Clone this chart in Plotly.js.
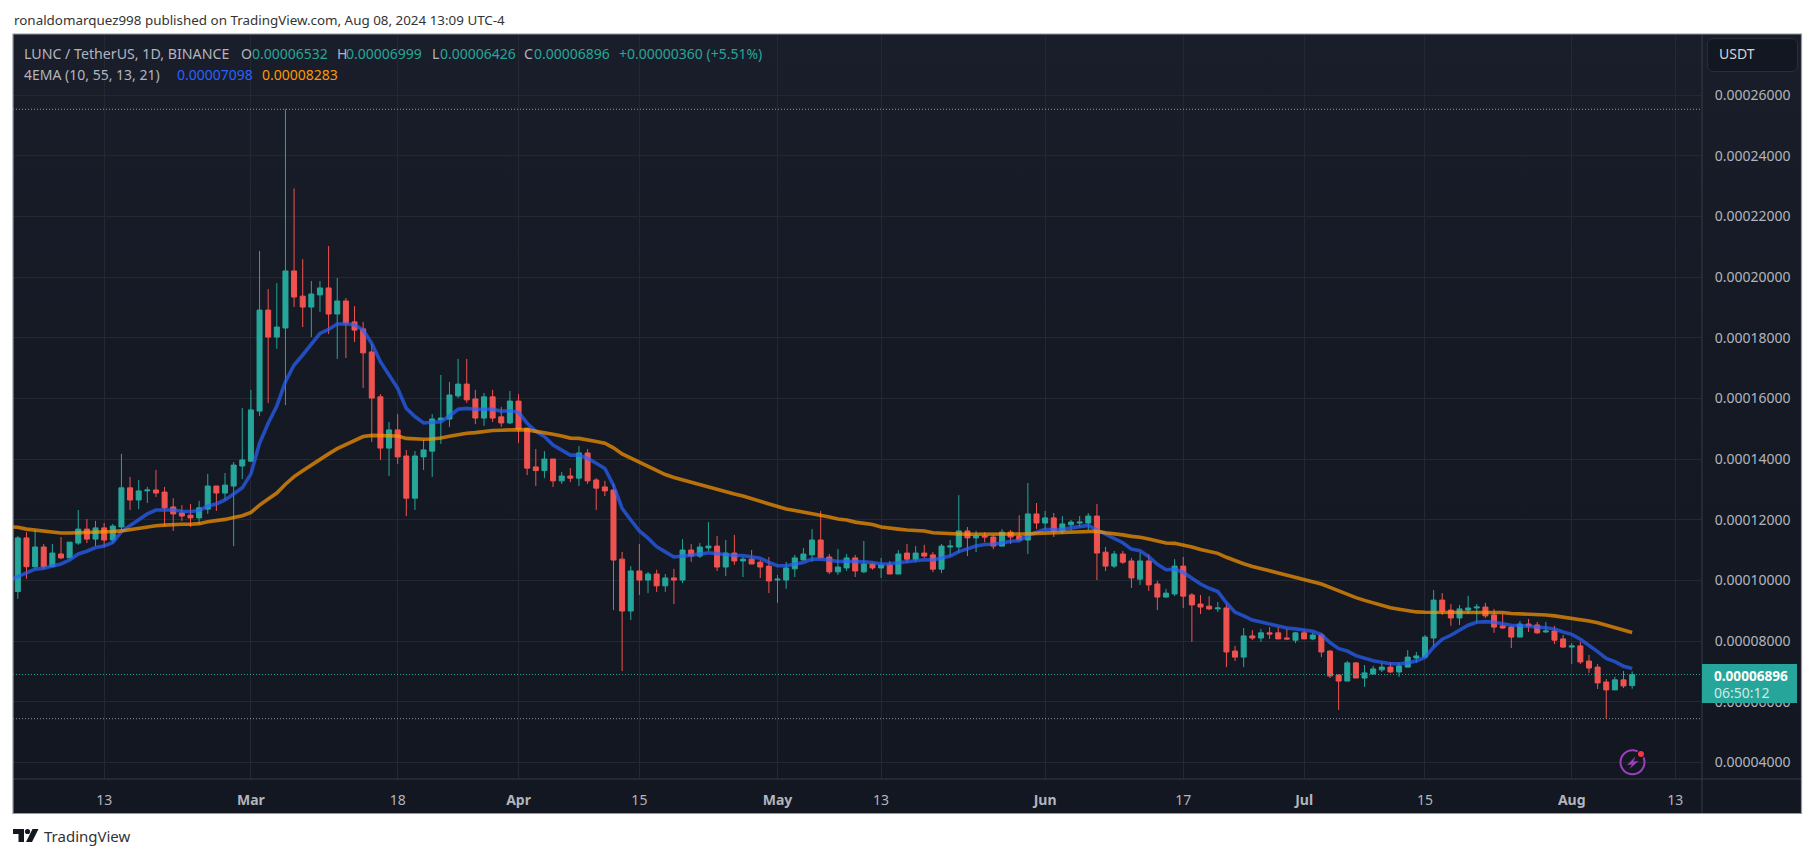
<!DOCTYPE html>
<html>
<head>
<meta charset="utf-8">
<script src="https://cdn.plot.ly/plotly-3.0.1.min.js"></script>
<style>
html,body{margin:0;padding:0;background:#fff;width:1815px;height:858px;overflow:hidden}
#frame{position:absolute;left:13px;top:34px;width:1788px;height:779px;background:linear-gradient(#1a1e2a 0%,#151924 40%,#131722 100%)}
#btn{position:absolute;left:1707px;top:38px;width:89px;height:32px;background:#131722;border:1px solid #2a2e39;border-radius:6px}
#chart{position:absolute;left:0;top:0;width:1815px;height:858px}
</style>
</head>
<body>
<div id="frame"></div>
<div id="btn"></div>
<div id="chart"></div>
<script>
const PRICE_UNIT = 1e-5;
const START_DATE = Date.UTC(2024, 1, 3);

const opens = [9.63,11.40,10.45,11.10,10.45,10.87,10.74,11.23,11.69,11.36,
11.73,11.33,11.76,13.05,12.65,12.95,12.98,12.91,12.42,12.22,
12.15,12.06,12.35,13.11,12.88,13.11,13.77,13.93,15.58,18.91,
18.02,18.32,20.20,19.37,19.01,19.41,19.64,18.78,19.21,18.52,
18.29,17.53,16.05,14.36,14.96,14.10,12.71,14.07,14.26,15.29,
15.32,16.08,16.47,15.98,15.35,16.05,15.39,15.19,15.91,15.02,
13.74,13.62,14.00,13.28,13.44,13.37,14.20,13.31,13.08,12.98,
10.70,8.99,10.31,10.01,10.21,9.82,10.08,10.01,11.00,10.80,
11.07,11.13,10.44,10.90,10.64,10.70,10.60,10.47,10.01,10.01,
10.38,10.67,10.84,11.33,10.77,10.28,10.41,10.74,10.28,10.54,
10.41,10.51,10.21,10.90,10.70,10.90,10.84,10.37,11.10,11.10,
11.63,11.40,11.46,11.43,11.13,11.59,11.46,11.33,12.19,11.89,
12.06,11.63,11.83,11.89,11.89,12.12,10.93,10.47,10.87,10.64,
10.04,10.64,9.88,9.45,9.55,10.47,9.52,9.22,9.15,9.06,
9.09,7.67,7.47,8.17,8.10,8.27,8.27,8.10,8.03,8.27,
8.07,8.20,7.67,6.88,6.68,7.28,6.78,6.91,7.05,7.14,
6.98,7.14,7.44,7.47,8.10,9.35,9.02,8.76,9.02,9.09,
9.12,8.86,8.50,8.46,8.13,8.56,8.53,8.30,8.33,8.07,
7.80,7.84,7.34,7.14,6.65,6.39,6.72,6.532];

const highs = [11.46,11.59,11.66,11.20,11.20,11.43,11.26,12.32,12.02,11.96,
11.89,11.86,14.17,13.41,13.31,13.08,13.64,13.08,12.71,12.48,
12.52,12.62,13.51,13.11,13.54,13.90,15.68,16.28,20.86,19.60,
19.80,25.53,22.92,20.59,19.87,19.87,21.02,19.97,19.31,19.04,
18.52,17.79,16.14,15.22,15.48,14.30,14.26,14.63,15.48,16.77,
16.54,17.30,17.30,16.28,16.18,16.28,15.72,16.24,16.14,15.02,
14.33,14.26,14.00,13.57,13.70,14.43,14.33,13.37,13.28,13.18,
10.94,10.47,11.20,10.28,10.35,10.21,10.38,11.36,11.20,11.23,
11.92,11.46,11.33,11.50,10.77,11.00,10.67,10.77,10.18,10.61,
10.84,11.07,11.69,12.29,10.87,11.03,10.87,10.84,11.30,10.57,
10.74,10.64,11.00,11.20,11.13,11.17,10.94,11.20,11.33,12.81,
11.76,11.63,11.59,11.49,11.69,11.66,12.15,13.21,12.55,12.29,
12.22,12.12,11.99,12.12,12.22,12.52,11.10,10.97,10.97,10.74,
10.93,10.87,9.98,9.72,10.70,10.77,9.58,9.52,9.48,9.29,
9.22,7.84,8.43,8.36,8.40,8.46,8.46,8.40,8.30,8.36,
8.27,8.27,7.70,6.91,7.34,7.31,7.21,7.18,7.28,7.31,
7.28,7.70,7.64,8.20,9.68,9.58,9.22,9.19,9.49,9.22,
9.26,9.06,8.89,8.50,8.66,8.73,8.63,8.63,8.50,8.20,
7.94,7.97,7.54,7.24,6.75,6.82,7.01,6.999];

const lows = [9.39,10.05,10.37,10.37,10.45,10.70,10.74,11.17,11.23,11.13,
11.10,11.23,11.66,12.32,12.35,12.55,12.75,11.79,11.63,11.96,
11.76,11.86,12.19,12.29,12.65,11.13,13.34,13.90,15.42,15.85,
17.63,15.78,19.01,18.35,18.02,18.85,18.12,17.30,17.33,17.86,
16.34,14.56,13.97,13.44,13.84,12.12,12.32,13.64,13.41,14.50,
15.06,16.01,15.85,15.15,15.09,15.22,15.06,15.15,14.53,13.47,
13.11,13.37,13.08,13.18,13.24,13.11,13.18,12.32,12.78,9.02,
7.01,8.69,9.52,9.58,9.62,9.62,9.22,9.91,10.61,10.74,
10.97,10.31,10.14,10.51,10.11,10.54,10.08,9.58,9.26,9.72,
10.11,10.67,10.61,10.74,10.21,10.18,10.31,10.11,10.24,10.35,
10.08,10.21,10.21,10.57,10.60,10.74,10.27,10.24,10.80,10.90,
10.80,10.93,11.26,11.03,11.13,11.20,11.33,10.87,11.69,11.66,
11.43,11.53,11.63,11.76,11.66,10.01,10.31,10.41,10.54,9.75,
9.85,9.65,9.02,9.42,9.48,9.09,7.97,8.89,9.02,8.96,
7.14,7.34,7.14,8.03,7.97,8.07,8.07,8.03,7.93,8.07,
8.03,7.47,6.78,5.73,6.68,6.78,6.49,6.91,6.98,6.95,
6.82,7.14,7.28,7.47,7.80,8.86,8.50,8.53,8.89,8.60,
8.76,8.27,8.40,7.77,8.13,8.30,8.23,8.27,7.90,7.77,
7.24,7.24,6.95,6.42,5.44,6.39,6.45,6.426];

const closes = [11.40,10.45,11.10,10.45,10.90,10.74,11.26,11.69,11.36,11.73,
11.33,11.79,13.05,12.65,12.95,12.98,12.88,12.39,12.19,12.12,
12.06,12.39,13.11,12.88,13.14,13.80,13.97,15.62,18.91,18.02,
18.35,20.20,19.34,19.01,19.44,19.64,18.78,19.21,18.48,18.25,
17.50,16.01,14.36,14.96,14.07,12.71,14.10,14.30,15.32,15.35,
16.11,16.47,15.95,15.35,16.05,15.35,15.19,15.91,14.99,13.70,
13.62,14.00,13.28,13.44,13.37,14.20,13.28,13.04,12.95,10.67,
8.99,10.31,10.01,10.21,9.82,10.08,10.01,11.00,10.80,11.10,
11.13,10.44,10.90,10.64,10.70,10.54,10.44,9.98,10.04,10.41,
10.74,10.87,11.33,10.74,10.28,10.44,10.74,10.31,10.54,10.41,
10.51,10.21,10.87,10.70,10.90,10.80,10.37,11.13,11.13,11.63,
11.40,11.46,11.43,11.13,11.59,11.43,11.33,12.19,11.89,12.06,
11.63,11.86,11.92,11.92,12.12,10.90,10.47,10.87,10.60,10.08,
10.64,9.85,9.45,9.58,10.47,9.48,9.19,9.12,9.06,9.09,
7.64,7.47,8.17,8.10,8.27,8.23,8.07,8.07,8.27,8.07,
8.20,7.64,6.85,6.68,7.28,6.78,6.95,7.08,7.14,6.98,
7.18,7.47,7.51,8.13,9.35,8.99,8.76,9.06,9.09,9.12,
8.83,8.46,8.43,8.13,8.56,8.50,8.27,8.33,8.03,7.80,
7.84,7.31,7.11,6.62,6.39,6.72,6.52,6.896];

// One value per day, starting one day before the first visible candle (the lines reach the left edge).
const emaFast = [10.00,10.14,10.25,10.37,10.40,10.47,10.54,10.67,10.87,10.96,11.08,
11.13,11.25,11.61,11.80,12.01,12.19,12.32,12.33,12.32,12.28,
12.27,12.30,12.45,12.52,12.65,12.85,13.05,13.51,14.52,15.18,
15.75,16.55,17.10,17.43,17.79,18.14,18.27,18.45,18.45,18.43,
18.25,17.81,17.21,16.77,16.33,15.67,15.40,15.19,15.20,15.23,
15.42,15.64,15.67,15.64,15.64,15.64,15.58,15.59,15.54,15.18,
14.91,14.74,14.46,14.30,14.13,14.13,14.02,13.86,13.69,13.14,
12.37,11.99,11.63,11.39,11.11,10.94,10.77,10.80,10.85,10.87,
10.91,10.87,10.83,10.82,10.82,10.78,10.73,10.59,10.48,10.48,
10.53,10.59,10.70,10.70,10.67,10.62,10.63,10.63,10.61,10.59,
10.54,10.55,10.58,10.62,10.65,10.68,10.67,10.72,10.80,10.95,
11.05,11.13,11.18,11.19,11.23,11.29,11.31,11.48,11.59,11.68,
11.67,11.68,11.73,11.77,11.81,11.66,11.51,11.37,11.24,11.03,
10.98,10.78,10.53,10.35,10.37,10.26,10.07,9.88,9.74,9.63,
9.26,8.95,8.83,8.69,8.63,8.56,8.47,8.43,8.40,8.35,
8.32,8.21,7.95,7.75,7.67,7.52,7.42,7.35,7.30,7.25,
7.25,7.28,7.34,7.46,7.80,8.06,8.19,8.35,8.52,8.62,
8.64,8.62,8.57,8.52,8.51,8.47,8.46,8.44,8.40,8.30,
8.22,8.06,7.87,7.65,7.43,7.32,7.17,7.098];

const emaSlow = [11.77,11.75,11.69,11.66,11.62,11.58,11.56,11.56,11.57,11.57,11.57,
11.58,11.61,11.63,11.67,11.71,11.77,11.80,11.82,11.84,11.85,
11.85,11.87,11.93,11.96,12.01,12.07,12.13,12.24,12.48,12.68,
12.88,13.17,13.42,13.61,13.80,14.00,14.17,14.34,14.48,14.63,
14.74,14.78,14.78,14.77,14.76,14.68,14.66,14.65,14.66,14.69,
14.75,14.81,14.85,14.87,14.91,14.94,14.95,14.97,14.97,14.96,
14.92,14.87,14.82,14.76,14.69,14.68,14.64,14.58,14.52,14.37,
14.17,14.03,13.90,13.78,13.63,13.49,13.39,13.31,13.23,13.17,
13.09,12.99,12.92,12.85,12.78,12.69,12.62,12.53,12.43,12.35,
12.30,12.25,12.22,12.15,12.09,12.02,11.99,11.92,11.88,11.84,
11.76,11.71,11.69,11.66,11.65,11.63,11.57,11.55,11.54,11.53,
11.52,11.52,11.52,11.51,11.51,11.51,11.52,11.53,11.55,11.56,
11.57,11.58,11.59,11.60,11.62,11.62,11.57,11.54,11.50,11.45,
11.42,11.36,11.29,11.23,11.22,11.17,11.10,11.02,10.96,10.89,
10.76,10.64,10.55,10.46,10.40,10.32,10.24,10.17,10.09,10.02,
9.97,9.88,9.77,9.65,9.54,9.43,9.34,9.25,9.19,9.10,
9.05,9.00,8.96,8.95,8.95,8.95,8.96,8.96,8.96,8.96,
8.96,8.96,8.94,8.91,8.90,8.89,8.88,8.86,8.83,8.79,
8.76,8.72,8.66,8.60,8.52,8.45,8.39,8.283];

const xTickDates = ['2024-02-13','2024-03-01','2024-03-18','2024-04-01','2024-04-15','2024-05-01','2024-05-13','2024-06-01','2024-06-17','2024-07-01','2024-07-15','2024-08-01','2024-08-13'];
const xTickLabels = ['13','<b>Mar</b>','18','<b>Apr</b>','15','<b>May</b>','13','<b>Jun</b>','17','<b>Jul</b>','15','<b>Aug</b>','13'];
const yTickValues = [4,6,8,10,12,14,16,18,20,22,24,26];

const FONT = '"Noto Sans", sans-serif';
const GREEN = '#26a69a', RED = '#ef5350', MUTED = '#b2b5be';
const PLOT = {l: 13, t: 34, r: 1702, b: 779};
const px = x => (x - PLOT.l) / (PLOT.r - PLOT.l);
const py = y => (PLOT.b - y) / (PLOT.b - PLOT.t);
const price = v => v * PRICE_UNIT;
const fmt = v => v.toFixed(8);
const DAY = 86400000;
const dayStr = i => new Date(START_DATE + i * DAY).toISOString().slice(0, 10);
const dates = opens.map((_, i) => dayStr(i));
const lineDates = emaFast.map((_, i) => dayStr(i - 1));

const traces = [
  {type: 'scatter', mode: 'lines', x: lineDates, y: emaFast.map(price), hoverinfo: 'skip',
   line: {color: 'rgba(41,98,255,0.7)', width: 3.6, shape: 'linear'}},
  {type: 'candlestick', x: dates, open: opens.map(price), high: highs.map(price), low: lows.map(price), close: closes.map(price),
   increasing: {line: {color: GREEN, width: 1}, fillcolor: GREEN},
   decreasing: {line: {color: RED, width: 1}, fillcolor: RED},
   whiskerwidth: 0, hoverinfo: 'skip'},
  {type: 'scatter', mode: 'lines', x: lineDates, y: emaSlow.map(price), hoverinfo: 'skip',
   line: {color: 'rgba(255,152,0,0.7)', width: 3.6, shape: 'linear'}}
];

const lastClose = closes[closes.length - 1];
const maxHigh = Math.max(...highs), minLow = Math.min(...lows);
const frameLine = '#9598a1', dividerLine = '#363a45';

function rectPx(x0, y0, x1, y1, fill, lineColor, w) {
  return {type: 'rect', xref: 'paper', yref: 'paper', x0: px(x0), x1: px(x1), y0: py(y0), y1: py(y1),
          fillcolor: fill, line: {color: lineColor || 'rgba(0,0,0,0)', width: w || 0}, layer: 'above'};
}
function hLine(v, color, x1) {
  return {type: 'line', xref: 'paper', yref: 'y', x0: 0, x1: x1, y0: price(v), y1: price(v),
          line: {color, width: 1, dash: '1px,2px'}, layer: 'above'};
}
function polyPx(points, fill) {
  return {type: 'path', xref: 'paper', yref: 'paper',
          path: points.map((p, i) => (i ? 'L' : 'M') + px(p[0]) + ',' + py(p[1])).join(' ') + ' Z',
          fillcolor: fill, line: {width: 0}, layer: 'above'};
}
function circlePx(cx, cy, r, fill, lineColor, w) {
  return {type: 'circle', xref: 'paper', yref: 'paper', x0: px(cx - r), x1: px(cx + r), y0: py(cy - r), y1: py(cy + r),
          fillcolor: fill, line: {color: lineColor || 'rgba(0,0,0,0)', width: w || 0}, layer: 'above'};
}

const shapes = [
  hLine(maxHigh, 'rgba(178,181,190,0.8)', px(1700)),
  hLine(minLow, 'rgba(178,181,190,0.8)', px(1700)),
  hLine(lastClose, GREEN, px(1700)),
  // axis dividers
  {type: 'line', xref: 'paper', yref: 'paper', x0: 1, x1: 1, y0: py(813), y1: py(34), line: {color: dividerLine, width: 1}, layer: 'above'},
  {type: 'line', xref: 'paper', yref: 'paper', x0: 0, x1: px(1801), y0: 0, y1: 0, line: {color: dividerLine, width: 1}, layer: 'above'},
  // outer frame
  rectPx(13, 34, 1801.5, 813.5, 'rgba(0,0,0,0)', frameLine, 1.2),
  // last price badge
  rectPx(1702, 664, 1797, 703, GREEN),
  // alert icon
  circlePx(1632.5, 762.3, 12, 'rgba(0,0,0,0)', '#9c3fbf', 2),
  polyPx([[1635.5,756.5],[1627,765],[1632,764.5],[1629.5,769],[1638.5,761],[1633.5,761.5]], '#9c3fbf'),
  circlePx(1641, 754, 4.2, '#131722'),
  circlePx(1641, 754, 3, '#f23645'),
  // TradingView logo
  polyPx([[13,829],[24,829],[24,842],[18.5,842],[18.5,834],[13,834]], '#131722'),
  circlePx(27.5, 831.5, 2.6, '#131722'),
  polyPx([[32.5,829],[38.5,829],[32,842],[26,842]], '#131722')
];

function label(x, y, text, color, size) {
  return {xref: 'paper', yref: 'paper', x: px(x), y: py(y), text, showarrow: false,
    xanchor: 'left', yanchor: 'middle', align: 'left', borderpad: 0,
    font: {family: FONT, size: size || 14, color}};
}

const annotations = [
  label(13, 20, 'ronaldomarquez998 published on TradingView.com, Aug 08, 2024 13:09 UTC-4', '#333333', 13.4),
  label(23, 53.5, 'LUNC / TetherUS, 1D, BINANCE', MUTED, 14.2),
  label(240, 53.5, 'O', MUTED), label(250.5, 53.5, fmt(price(opens[187])), GREEN),
  label(335.5, 53.5, 'H', MUTED), label(345, 53.5, fmt(price(highs[187])), GREEN),
  label(430.5, 53.5, 'L', MUTED), label(439, 53.5, fmt(price(lows[187])), GREEN),
  label(523, 53.5, 'C', MUTED), label(533, 53.5, fmt(price(closes[187])), GREEN),
  label(617.5, 53.5, '+0.00000360 (+5.51%)', GREEN),
  label(23, 74.5, '4EMA (10, 55, 13, 21)', MUTED),
  label(176, 74.5, fmt(price(emaFast[188])), '#2962ff'),
  label(261, 74.5, fmt(price(emaSlow[188])), '#ff9800'),
  label(1718, 54, 'USDT', '#d1d4dc', 14),
  label(1713, 675, '<b>' + fmt(price(closes[187])) + '</b>', '#ffffff', 13.6),
  label(1713, 692, '06:50:12', 'rgba(255,255,255,0.78)', 14),
  label(43, 836, 'TradingView', '#333333', 15)
];

const layout = {
  width: 1815, height: 858,
  margin: {l: PLOT.l, t: PLOT.t, r: 1815 - PLOT.r, b: 858 - PLOT.b, pad: 0},
  paper_bgcolor: 'rgba(0,0,0,0)', plot_bgcolor: 'rgba(0,0,0,0)',
  showlegend: false, hovermode: false, dragmode: false,
  boxgap: 0.17,
  font: {family: FONT, size: 14, color: MUTED},
  xaxis: {type: 'date', range: ['2024-02-02 10:34', '2024-08-16 02:10'], rangeslider: {visible: false},
          tickmode: 'array', tickvals: xTickDates, ticktext: xTickLabels, tickangle: 0,
          showgrid: true, gridcolor: '#242833', gridwidth: 1, zeroline: false, showline: false,
          ticks: 'outside', ticklen: 8, tickcolor: 'rgba(0,0,0,0)', tickfont: {family: FONT, size: 14, color: MUTED}},
  yaxis: {side: 'right', range: [price(3.452), price(28.011)], autorange: false,
          tickmode: 'array', tickvals: yTickValues.map(price), ticktext: yTickValues.map(v => fmt(price(v))),
          showgrid: true, gridcolor: '#242833', gridwidth: 1, zeroline: false, showline: false,
          ticks: 'outside', ticklen: 9, tickcolor: 'rgba(0,0,0,0)', tickfont: {family: FONT, size: 14, color: MUTED}},
  shapes, annotations
};

Plotly.newPlot('chart', traces, layout, {displayModeBar: false, staticPlot: true});
</script>
</body>
</html>
